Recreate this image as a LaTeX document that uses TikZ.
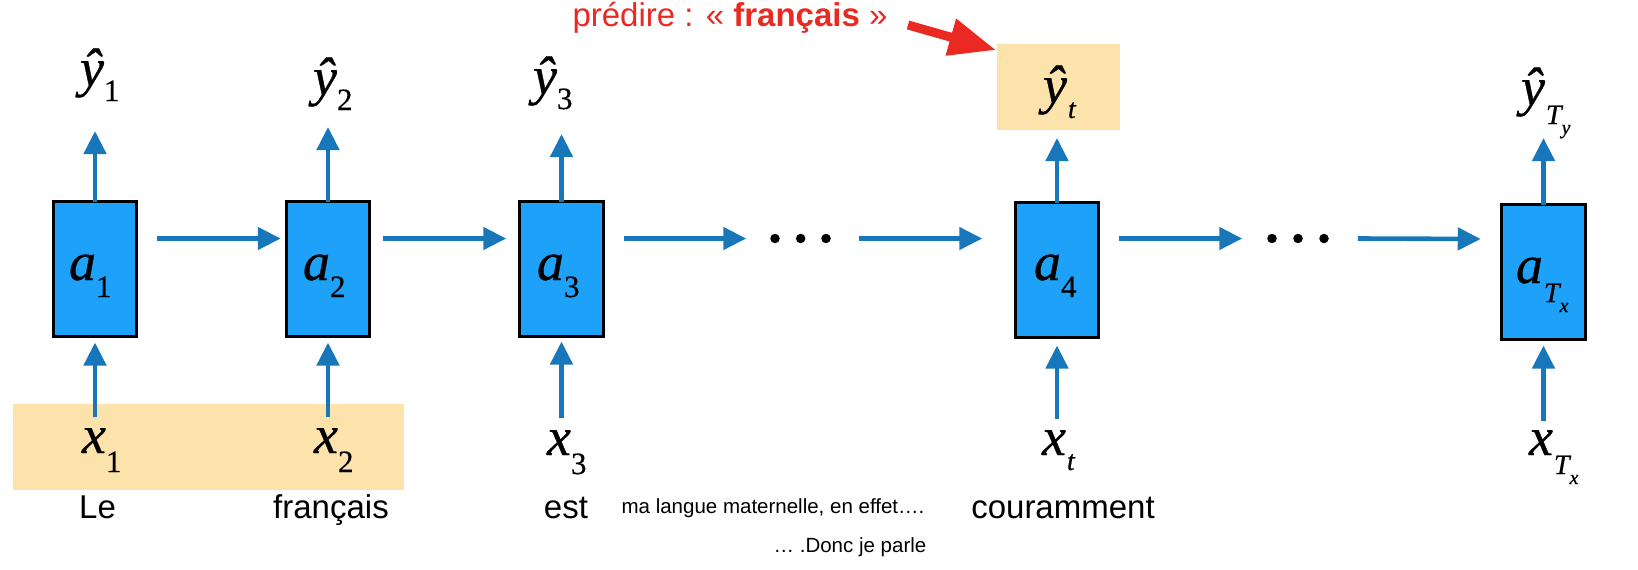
\documentclass[tikz,border=0pt]{standalone}
\usepackage{fontspec}
\setmainfont{Liberation Sans}
\newfontfamily\tmsfont[UprightFeatures={FakeBold=0.4},ItalicFeatures={FakeBold=0.6}]{Liberation Serif}
\usetikzlibrary{arrows.meta}
\definecolor{boxblue}{HTML}{1DA1F9}
\definecolor{arrowblue}{HTML}{1877BB}
\definecolor{hlorange}{HTML}{FBE3AB}
\definecolor{predred}{HTML}{EA2A22}
\newcommand\mbig{\tmsfont\itshape\fontsize{54pt}{54pt}\selectfont}
\newcommand\msub{\tmsfont\upshape\fontsize{31pt}{31pt}\selectfont}
\newcommand\msubit{\tmsfont\itshape\fontsize{28pt}{28pt}\selectfont}
\newcommand\msubT{\tmsfont\itshape\fontsize{28pt}{28pt}\selectfont}
\newcommand\msubsub{\tmsfont\itshape\fontsize{20pt}{20pt}\selectfont}
\newcommand\lblnum[3]{{\mbig #1}\raisebox{-#3pt}{\msub #2}}
\newcommand\lblit[2]{{\mbig #1}\kern1pt\raisebox{-15pt}{\msubit #2}}
\newcommand\lblT[2]{{\mbig #1}\kern1pt\raisebox{-19pt}{\msubT T\raisebox{-10pt}{\msubsub #2}}}
\begin{document}
\begin{tikzpicture}[x=1pt,y=-1pt,
  every node/.style={inner sep=0pt,outer sep=0pt},
  cell/.style={draw=black,line width=2.7pt,fill=boxblue,minimum width=83.5pt,minimum height=135pt},
  arr/.style={draw=arrowblue,line width=4.6pt,-{Triangle[length=23pt,width=22pt]}},
  redarr/.style={draw=predred,line width=9pt,-{Triangle[length=47pt,width=36pt]}},
  hl/.style={fill=hlorange},
  lab/.style={anchor=base west},
  word/.style={anchor=base,font=\fontsize{33pt}{33pt}\selectfont},
  small/.style={anchor=base,font=\fontsize{20.5pt}{20.5pt}\selectfont},
  dot/.style={circle,fill=black,minimum size=9.5pt}]
\useasboundingbox (0,0) rectangle (1638,570);
% highlight rectangles
\node[hl,minimum width=391pt,minimum height=86pt] (band) at (208.5,447) {};
\node[hl,minimum width=123pt,minimum height=86pt] (ytbox) at (1058.5,87) {};
% cells
\node[cell] (a1) at (95,269) {};
\node[cell] (a2) at (328,269) {};
\node[cell] (a3) at (561.5,269) {};
\node[cell] (a4) at (1057,270) {};
\node[cell] (a5) at (1543.5,272) {};
% cell labels
\node[lab] (la1) at (69,280) {\lblnum{a}{1}{17}};
\node[lab] (la2) at (303,280) {\lblnum{a}{2}{17}};
\node[lab] (la3) at (537,280) {\lblnum{a}{3}{17}};
\node[lab] (la4) at (1034,280) {\lblnum{a}{4}{17}};
\node[lab] (la5) at (1516,283) {\lblT{a}{x}};
% outputs
\node[lab] (y1) at (80,86) {\lblnum{ŷ}{1}{15}};
\node[lab] (y2) at (313,95) {\lblnum{ŷ}{2}{15}};
\node[lab] (y3) at (533,94) {\lblnum{ŷ}{3}{15}};
\node[lab] (yt) at (1043,103) {\lblit{ŷ}{t}};
\node[lab] (yTy) at (1521,105) {\lblT{ŷ}{y}};
% inputs
\node[lab] (x1) at (82,453) {\lblnum{x}{1}{19}};
\node[lab] (x2) at (314,453) {\lblnum{x}{2}{19}};
\node[lab] (x3) at (547,455) {\lblnum{x}{3}{19}};
\node[lab] (xt) at (1042,455) {\lblit{x}{t}};
\node[lab] (xTx) at (1529,455) {\lblT{x}{x}};
% words
\node[word] (w1) at (97.6,518) {Le};
\node[word] (w2) at (331,518) {français};
\node[word] (w3) at (566,518) {est};
\node[word] (w4) at (1063,518) {couramment};
\node[small] (s1) at (773,513) {ma langue maternelle, en effet….};
\node[small] (s2) at (850,552) {… .Donc je parle};
\node[anchor=base,text=predred,font=\fontsize{33pt}{33pt}\selectfont] (pred) at (730,27) {prédire : « \textbf{français} »};
% dots
\node[dot] (d1) at (775,238.5) {};
\node[dot] (d2) at (800.7,238.5) {};
\node[dot] (d3) at (826,238.5) {};
\node[dot] (d4) at (1272,238.5) {};
\node[dot] (d5) at (1298,238.5) {};
\node[dot] (d6) at (1324,238.5) {};
% arrow ends
\coordinate (ty1) at (95,131);
\coordinate (ty2) at (328,127);
\coordinate (ty3) at (561.5,134);
\coordinate (ty4) at (1057,138);
\coordinate (ty5) at (1543.5,138);
\coordinate (bx1) at (95,417);
\coordinate (bx2) at (328,417);
\coordinate (bx3) at (561.5,418);
\coordinate (bx4) at (1057,419);
\coordinate (bx5) at (1543.5,421);
\coordinate (rs) at (908,25);
% output arrows
\draw[arr] (a1.north) -- (ty1);
\draw[arr] (a2.north) -- (ty2);
\draw[arr] (a3.north) -- (ty3);
\draw[arr] (a4.north) -- (ty4);
\draw[arr] (a5.north) -- (ty5);
% input arrows
\draw[arr] (bx1) -- ([yshift=-6pt]a1.south);
\draw[arr] (bx2) -- ([yshift=-6pt]a2.south);
\draw[arr] (bx3) -- ([yshift=-5pt]a3.south);
\draw[arr] (bx4) -- ([yshift=-8pt]a4.south);
\draw[arr] (bx5) -- ([yshift=-6pt]a5.south);
% recurrent arrows
\draw[arr] ([xshift=20pt,yshift=30.5pt]a1.east) -- ([xshift=-5.5pt,yshift=30.5pt]a2.west);
\draw[arr] ([xshift=13pt,yshift=30.5pt]a2.east) -- ([xshift=-13.5pt,yshift=30.5pt]a3.west);
\draw[arr] ([xshift=21pt,yshift=30.5pt]a3.east) -- ([xshift=-24pt]d1.west);
\draw[arr] ([xshift=28pt]d3.east) -- ([xshift=-33pt,yshift=31.5pt]a4.west);
\draw[arr] ([xshift=20pt,yshift=31.5pt]a4.east) -- ([xshift=-25pt]d4.west);
\draw[arr] ([xshift=29pt]d6.east) -- ([xshift=-21pt,yshift=33pt]a5.west);
% prediction arrow
\draw[redarr] (rs) -- ([xshift=-1pt,yshift=-6pt]ytbox.north west);
\end{tikzpicture}
\end{document}
